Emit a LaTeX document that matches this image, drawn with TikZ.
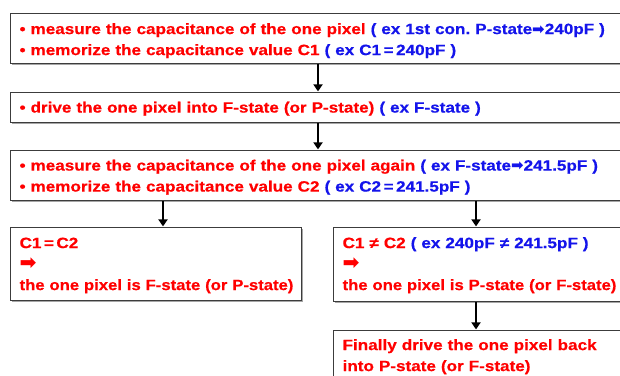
\documentclass[tikz,border=0pt]{standalone}
\usepackage{fontspec}
\setmainfont{Liberation Sans}[FakeStretch=1.14, BoldFeatures={FakeBold=0.5}]
\newfontfamily\symfont{DejaVu Sans}
\usetikzlibrary{arrows.meta,shadows}
\frenchspacing
\definecolor{txtred}{RGB}{255,0,0}
\definecolor{txtblue}{RGB}{20,20,235}
\definecolor{frame}{RGB}{60,60,60}
\newcommand{\rarr}{{\symfont\bfseries ➡}}
\newcommand{\bigrarr}{\scalebox{1.35}{\rarr}}
\newcommand{\rd}[1]{\textcolor{txtred}{#1}}
\newcommand{\bl}[1]{\textcolor{txtblue}{#1}}
% vertical padding struts: \topstrut{height above first baseline}, \botstrut{depth below last}
\newcommand{\topstrut}[1]{\rule{0pt}{#1}}
\newcommand{\botstrut}[1]{\rule[-#1]{0pt}{#1}}
% a slightly narrowed line that never wraps
\newcommand{\oneline}[1]{\makebox[0pt][l]{\scalebox{0.975}[1]{#1}}}
\begin{document}
\begin{tikzpicture}[x=1pt,y=-1pt,
  stepbox/.style={draw=frame, line width=1.2pt, fill=white, rectangle,
    align=left, anchor=north west, inner xsep=9pt, inner ysep=0pt,
    font=\fontsize{15}{21}\selectfont\bfseries,
    drop shadow={shadow xshift=1.2pt, shadow yshift=-1.2pt, fill=black!35, opacity=1}},
  wide/.style={stepbox, text width=597pt},
  half/.style={stepbox, text width=274pt},
  flow/.style={line width=2.8pt, draw=black,
    -{Triangle[width=9pt,length=7pt]}, shorten >=0.6pt}]
\useasboundingbox (0,0) rectangle (620,375);
\begin{scope}
\clip (0,0) rectangle (620,375);
% measurement of C1
\node[wide] (b1) at (10,13)
  {\topstrut{20.5pt}\rd{• measure the capacitance of the one pixel} \bl{( ex 1st con. P-state\rarr240pF )}\\
   \rd{• memorize the capacitance value C1} \bl{( ex C1\,=\,240pF )}\botstrut{8.5pt}};
% switching
\node[wide] (b2) at (10,92)
  {\topstrut{20pt}\rd{• drive the one pixel into F-state (or P-state)} \bl{( ex F-state )}\botstrut{10pt}};
% measurement of C2
\node[wide] (b3) at (10,150)
  {\topstrut{20pt}\rd{• measure the capacitance of the one pixel again} \bl{( ex F-state\rarr241.5pF )}\\
   \rd{• memorize the capacitance value C2} \bl{( ex C2\,=\,241.5pF )}\botstrut{9pt}};
% outcomes
\node[stepbox, text width=273pt] (b4) at (10,227)
  {\topstrut{20.5pt}\rd{C1\,=\,C2}\\ \rd{\bigrarr}\\ \oneline{\rd{the one pixel is F-state (or P-state)}}\botstrut{10.5pt}};
\node[half] (b5) at (333,227)
  {\topstrut{20.5pt}\rd{C1 ≠ C2} \bl{( ex 240pF ≠ 241.5pF )}\\ \rd{\bigrarr}\\ \oneline{\rd{the one pixel is P-state (or F-state)}}\botstrut{11.5pt}};
\node[half] (b6) at (333,330)
  {\topstrut{19.5pt}\rd{Finally drive the one pixel back}\\ \rd{into P-state (or F-state)}\botstrut{15pt}};
\coordinate (mx) at (318,0);
\coordinate (lx) at (163,0);
\coordinate (rx) at (476,0);
\draw[flow] (b1.south -| mx) -- (b2.north -| mx);
\draw[flow] (b2.south -| mx) -- (b3.north -| mx);
\draw[flow] (b3.south -| lx) -- (b4.north -| lx);
\draw[flow] (b3.south -| rx) -- (b5.north -| rx);
\draw[flow] (b5.south -| rx) -- (b6.north -| rx);
\end{scope}
\end{tikzpicture}
\end{document}
